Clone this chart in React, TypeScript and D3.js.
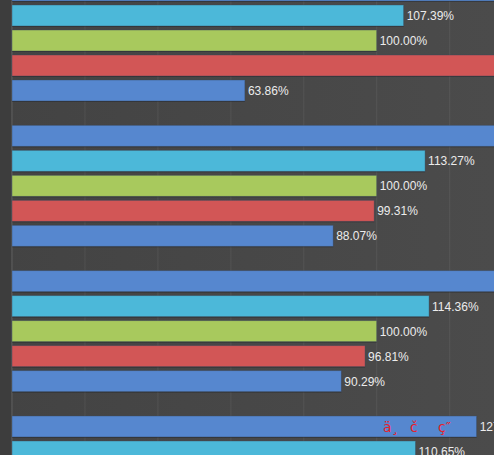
import React from "react";
import * as d3 from "d3";

const groups = ["G1", "G2", "G3", "G4"];
const series = ["s1", "s2", "s3", "s4", "s5"];
const colors = ["#5687cf", "#4cb8d9", "#a8c95d", "#d25656", "#5687cf"];
// values in percent, per series (row = series, column = group)
const s1Values = [140, 140, 140, 127.4];
const s2Values = [107.39, 113.27, 114.36, 110.65];
const s3Values = [100, 100, 100, 100];
const s4Values = [136, 99.31, 96.81, 97.5];
const s5Values = [63.86, 88.07, 90.29, 92.1];
const allValues = [s1Values, s2Values, s3Values, s4Values, s5Values];
const xTicks = [0, 20, 40, 60, 80, 100, 120, 140];
const barNote = ["ä¸", "č", "ç″"];

const W = 494;
const H = 455;

export default function App() {
  React.useEffect(() => {
    document.body.style.margin = "0";
  }, []);

  const x = d3.scaleLinear().domain([0, 100]).range([12, 376.7]);
  const step = 145.33;
  const gy = d3
    .scaleBand<string>()
    .domain(groups)
    .range([-20, -20 + 4 * step - 24.33])
    .paddingInner(24.33 / step)
    .paddingOuter(0);
  const sy = d3
    .scaleBand<string>()
    .domain(series)
    .range([0, gy.bandwidth()])
    .paddingInner(0.16)
    .paddingOuter(0);

  const fmt = (v: number) => v.toFixed(2) + "%";

  return (
    <svg width={W} height={H} style={{ display: "block" }}>
      <defs>
        <linearGradient id="bg" x1="0" y1="0" x2="1" y2="0">
          <stop offset="0" stopColor="#434343" />
          <stop offset="1" stopColor="#4b4b4b" />
        </linearGradient>
      </defs>
      <rect x={0} y={0} width={W} height={H} fill="url(#bg)" />
      <rect x={0} y={0} width={11} height={H} fill="#3d3d3d" />
      {xTicks.map((t) => (
        <line
          key={t}
          x1={x(t)}
          x2={x(t)}
          y1={0}
          y2={H}
          stroke="#ffffff"
          strokeOpacity={t === 0 ? 0.12 : 0.06}
          strokeWidth={1.2}
        />
      ))}
      {groups.map((g, gi) => (
        <g key={g} transform={`translate(0,${gy(g)})`}>
          {series.map((s, si) => {
            const v = allValues[si][gi];
            const y = sy(s)!;
            const h = sy.bandwidth();
            const lx = x(v) + 3;
            return (
              <g key={s}>
                <rect
                  x={x(0)}
                  y={y + 1}
                  width={x(v) - x(0)}
                  height={h}
                  fill="#000"
                  opacity={0.25}
                />
                <rect
                  x={x(0)}
                  y={y}
                  width={x(v) - x(0)}
                  height={h}
                  fill={colors[si]}
                  stroke="#3a4a60"
                  strokeOpacity={0.5}
                  strokeWidth={0.8}
                />
                {lx < W && (
                  <text
                    x={lx}
                    y={y + h / 2 + 4.5}
                    fill="#ececec"
                    fontSize={12}
                    fontFamily="Liberation Sans, Arial, sans-serif"
                  >
                    {fmt(v)}
                  </text>
                )}
              </g>
            );
          })}
          {gi === 3 && (
            <g
              fill="#e8202a"
              fontSize={14}
              fontFamily="DejaVu Sans, sans-serif"
            >
              <text x={383} y={sy("s1")! + 16}>{barNote[0]}</text>
              <text x={410} y={sy("s1")! + 16}>{barNote[1]}</text>
              <text x={438} y={sy("s1")! + 16}>{barNote[2]}</text>
            </g>
          )}
        </g>
      ))}
    </svg>
  );
}
